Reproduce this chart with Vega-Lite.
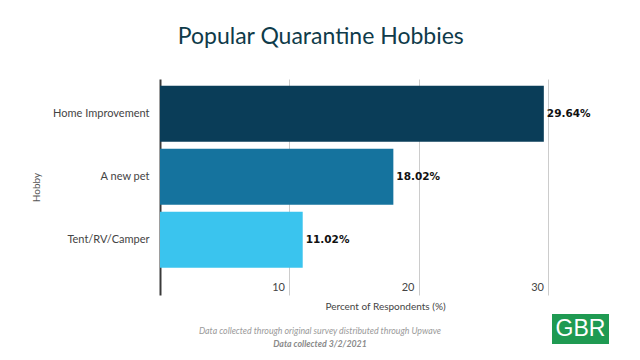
{
  "$schema": "https://vega.github.io/schema/vega-lite/v6.json",
  "padding": {"left": 31, "top": 26, "right": 0, "bottom": 0},
  "background": "white",
  "title": {
    "text": "Popular Quarantine Hobbies",
    "anchor": "middle",
    "fontSize": 23,
    "fontWeight": "normal",
    "font": "Lato",
    "color": "#0f3b4a",
    "offset": 30
  },
  "spacing": 3,
  "vconcat": [
    {
      "width": 450,
      "height": 216,
      "data": {
        "values": [
          {"Hobby": "Home Improvement", "Percent": 29.64, "Label": "29.64%"},
          {"Hobby": "A new pet", "Percent": 18.02, "Label": "18.02%"},
          {"Hobby": "Tent/RV/Camper", "Percent": 11.02, "Label": "11.02%"}
        ]
      },
      "encoding": {
        "y": {
          "field": "Hobby",
          "type": "nominal",
          "sort": ["Home Improvement", "A new pet", "Tent/RV/Camper"],
          "scale": {"paddingInner": 0.111, "paddingOuter": 0.27, "align": 0.2},
          "axis": {
            "title": "Hobby",
            "titleFontSize": 10,
            "titleFontWeight": "normal",
            "titleColor": "#555555",
            "titlePadding": 11,
            "labelFontSize": 11,
            "labelColor": "#444444",
            "labelPadding": 11,
            "ticks": false,
            "domain": true,
            "domainColor": "#3a3a3a",
            "domainWidth": 2
          }
        },
        "x": {
          "field": "Percent",
          "type": "quantitative",
          "scale": {"domain": [0, 34.75], "nice": false},
          "axis": {
            "title": "Percent of Respondents (%)",
            "titleFontSize": 10,
            "titleFontWeight": "normal",
            "titleColor": "#444444",
            "titlePadding": 6,
            "values": [10, 20, 30],
            "grid": true,
            "gridColor": "#cccccc",
            "domain": false,
            "ticks": false,
            "labelAlign": "right",
            "labelBaseline": "top",
            "labelPadding": -14,
            "labelOffset": -5,
            "labelFontSize": 11,
            "labelColor": "#444444"
          }
        }
      },
      "layer": [
        {
          "mark": {"type": "bar"},
          "encoding": {
            "color": {
              "field": "Hobby",
              "type": "nominal",
              "scale": {
                "domain": ["Home Improvement", "A new pet", "Tent/RV/Camper"],
                "range": ["#0a3d58", "#15739e", "#3ac4ee"]
              },
              "legend": null
            }
          }
        },
        {
          "mark": {"type": "text", "align": "left", "dx": 3, "fontWeight": "bold", "fontSize": 10.5, "font": "DejaVu Sans", "color": "#111111"},
          "encoding": {"text": {"field": "Label"}}
        }
      ]
    },
    {
      "spacing": 72,
      "hconcat": [
        {
          "width": 320,
          "height": 36,
          "data": {
            "values": [
              {"row": "a", "line": "Data collected through original survey distributed through Upwave", "w": "n"},
              {"row": "b", "line": "Data collected 3/2/2021", "w": "b"}
            ]
          },
          "encoding": {
            "y": {"field": "row", "type": "ordinal", "scale": {"type": "point", "range": [17, 30], "padding": 0}, "axis": null},
            "text": {"field": "line"}
          },
          "layer": [
            {
              "transform": [{"filter": "datum.w == 'n'"}],
              "mark": {"type": "text", "fontSize": 8.8, "fontStyle": "italic", "color": "#9a9a9a", "font": "Lato"}
            },
            {
              "transform": [{"filter": "datum.w == 'b'"}],
              "mark": {"type": "text", "fontSize": 8.8, "fontStyle": "italic", "fontWeight": "bold", "color": "#8a8a8a", "font": "Lato"}
            }
          ]
        },
        {
          "width": 57,
          "height": 30,
          "view": {"fill": "#1f9a52", "stroke": null},
          "data": {"values": [{"logo": "GBR"}]},
          "mark": {"type": "text", "color": "white", "fontSize": 23, "font": "Liberation Sans", "baseline": "middle", "align": "center"},
          "encoding": {"text": {"field": "logo"}}
        }
      ]
    }
  ],
  "config": {
    "view": {"stroke": null},
    "font": "Lato"
  }
}
